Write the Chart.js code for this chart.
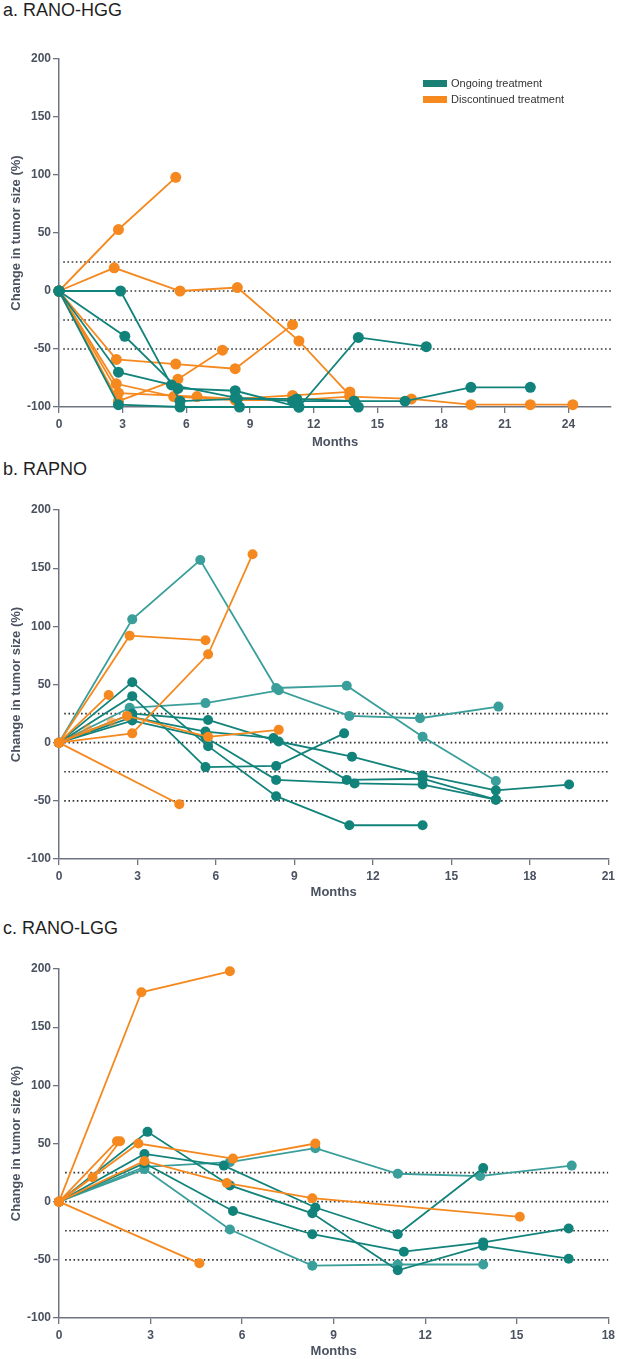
<!DOCTYPE html>
<html>
<head>
<meta charset="utf-8">
<script src="https://cdn.jsdelivr.net/npm/chart.js@4.4.1/dist/chart.umd.min.js"></script>
<style>
  body { margin: 0; background: #fff; }
  #wrap { position: relative; width: 619px; height: 1359px; font-family: "Liberation Sans", Arial, sans-serif; }
  canvas { position: absolute; left: 0; }
  .ttl { position: absolute; left: 3px; font-size: 18px; line-height: 20px; color: #1f1f1f; }
  .lgbox { position: absolute; left: 423px; width: 24px; height: 7px; }
  .lgtxt { position: absolute; left: 451px; font-size: 11px; line-height: 13px; color: #333; }
</style>
</head>
<body>
<div id="wrap">
  <div class="ttl" style="top:0px">a. RANO-HGG</div>
  <div class="ttl" style="top:459px">b. RAPNO</div>
  <div class="ttl" style="top:918px">c. RANO-LGG</div>
  <canvas id="hgg" width="619" height="450" style="top:0px"></canvas>
  <canvas id="rapno" width="619" height="450" style="top:450px"></canvas>
  <canvas id="lgg" width="619" height="459" style="top:900px"></canvas>
  <div class="lgbox" style="top:80px;background:#1a8076"></div>
  <div class="lgtxt" style="top:77px">Ongoing treatment</div>
  <div class="lgbox" style="top:96px;background:#f68a1e"></div>
  <div class="lgtxt" style="top:93px">Discontinued treatment</div>
</div>
<script>
// tick labels
var yTicks = [-100, -50, 0, 50, 100, 150, 200];
var xTicksHgg = [0, 3, 6, 9, 12, 15, 18, 21, 24];
var xTicksRapno = [0, 3, 6, 9, 12, 15, 18, 21];
var xTicksLgg = [0, 3, 6, 9, 12, 15, 18];
// dotted response thresholds
var refLevels = [25, 0, -25, -50];

// [month, % change] per patient
var hggOngoing = [
  [[0,0],[2.9,0],[5.7,-95],[8.4,-93],[11.2,-93],[13.9,-95],[16.3,-95],[19.4,-83],[22.2,-83]],
  [[0,0],[3.1,-39],[5.6,-84],[8.3,-86],[11.3,-100],[14.1,-40],[17.3,-48]],
  [[0,0],[2.8,-70],[5.3,-81],[8.3,-92],[11.0,-95],[13.9,-95]],
  [[0,0],[2.8,-98],[5.7,-100],[8.5,-100],[11.3,-100],[14.1,-100]]
];
var hggStopped = [
  [[0,0],[2.8,53],[5.5,98]],
  [[0,0],[2.6,20],[5.7,0],[8.4,3],[11.3,-43],[13.7,-90]],
  [[0,0],[2.7,-59],[5.5,-63],[8.3,-67],[11.0,-29]],
  [[0,0],[2.8,-95],[5.6,-76],[7.7,-51]],
  [[0,0],[2.7,-80],[5.4,-91],[8.3,-94],[11.1,-94],[13.7,-91],[16.6,-93],[19.4,-98],[22.2,-98],[24.2,-98]],
  [[0,0],[2.8,-88],[6.5,-91],[8.3,-93],[11.0,-90],[13.7,-87]]
];

var rapnoOngoing = [
  [[0,0],[2.8,52],[5.7,-3],[8.3,-46],[11.1,-71],[13.9,-71]],
  [[0,0],[2.8,40],[5.6,-21],[8.3,-20],[10.9,8]],
  [[0,0],[2.8,22],[5.6,9.5],[8.2,4],[11.0,-32],[13.9,-31],[16.7,-49]],
  [[0,0],[2.8,19],[5.6,4.6],[8.3,-32],[11.3,-35],[13.9,-36],[16.7,-49]],
  [[0,0],[2.8,25],[5.7,19.5],[8.4,1],[11.2,-12],[13.9,-28],[16.7,-41],[19.5,-36]]
];
var rapnoOngoingLight = [
  [[0,0],[2.8,106],[5.4,157],[8.3,47],[11.0,49],[13.9,5],[16.7,-33]],
  [[0,0],[2.7,30],[5.6,34],[8.4,45],[11.1,23],[13.8,21],[16.8,31]]
];
var rapnoStopped = [
  [[0,0],[2.7,92],[5.6,88]],
  [[0,0],[2.8,8],[5.7,76],[7.4,162]],
  [[0,0],[1.9,41]],
  [[0,0],[2.6,23],[5.7,5],[8.4,11]],
  [[0,0],[4.6,-53]]
];
var rapnoStoppedFaint = [
  [[0,0],[1.1,12]],
  [[0,0],[2.0,18]]
];

var lggOngoing = [
  [[0,0],[2.9,60],[5.6,14],[8.3,-10],[11.1,-59],[13.9,-38],[16.7,-49]],
  [[0,0],[2.8,41],[5.4,31],[8.4,-5],[11.1,-28],[13.9,29]],
  [[0,0],[2.8,33],[5.7,-8],[8.3,-28],[11.3,-43],[13.9,-35],[16.7,-23]]
];
var lggOngoingLight = [
  [[0,0],[2.8,30],[5.6,34],[8.4,46],[11.1,24],[13.8,22],[16.8,31]],
  [[0,0],[2.8,28],[5.6,-24],[8.3,-55],[11.1,-54],[13.9,-54]]
];
var lggStopped = [
  [[0,0],[2.7,180],[5.6,198]],
  [[0,0],[1.1,21],[2.0,52]],
  [[0,0],[1.9,52]],
  [[0,0],[2.6,50],[5.7,37],[8.4,50]],
  [[0,0],[2.8,35],[5.5,16],[8.3,3],[15.1,-13]],
  [[0,0],[4.6,-53]]
];

var TEAL = '#12837b', TEAL_LIGHT = '#3a9f9a', ORANGE = '#f5891f', ORANGE_FAINT = 'rgba(245,137,31,0.55)';
var axisCol = '#6e7480', tickCol = '#4a5260';

function seriesSets(list, color, radius) {
  return list.map(function (s) {
    return {
      data: s.map(function (p) { return { x: p[0], y: p[1] }; }),
      borderColor: color,
      backgroundColor: color,
      pointBackgroundColor: color,
      pointBorderWidth: 0,
      pointRadius: radius,
      borderWidth: 1.8,
      showLine: true,
      tension: 0,
      clip: false,
      order: 1
    };
  });
}

function refSets(xMax) {
  return refLevels.map(function (lv) {
    return {
      data: [{ x: 0.2, y: lv }, { x: xMax, y: lv }],
      borderColor: '#333',
      borderDash: [1.6, 2.6],
      borderWidth: 1.6,
      pointRadius: 0,
      showLine: true,
      order: 5
    };
  });
}

function makeChart(id, opt) {
  var font = { family: '"Liberation Sans", Arial, sans-serif', size: 12, weight: 'bold' };
  new Chart(document.getElementById(id), {
    type: 'scatter',
    data: { datasets: refSets(opt.xMax).concat(opt.sets) },
    options: {
      responsive: false,
      animation: false,
      layout: { padding: { left: 0, right: 8, top: opt.top, bottom: 0 } },
      plugins: { legend: { display: false }, tooltip: { enabled: false } },
      scales: {
        x: {
          type: 'linear', min: 0, max: opt.xMax,
          afterBuildTicks: function (s) { s.ticks = opt.xTicks.map(function (v) { return { value: v }; }); },
          afterFit: function (s) { s.height = opt.xH; },
          grid: { display: true, drawOnChartArea: false, drawTicks: true, tickLength: 6, color: axisCol, lineWidth: 1.3 },
          border: { display: true, color: axisCol, width: 1.5 },
          ticks: { padding: 4, color: tickCol, font: font, maxRotation: 0 },
          title: { display: true, text: 'Months', color: tickCol, font: { family: font.family, size: 13, weight: 'bold' }, padding: { top: 0, bottom: opt.titlePad } }
        },
        y: {
          type: 'linear', min: -100, max: 200,
          afterBuildTicks: function (s) { s.ticks = yTicks.map(function (v) { return { value: v }; }); },
          afterFit: function (s) { s.width = 59; },
          grid: { display: true, drawOnChartArea: false, drawTicks: true, tickLength: 6, color: axisCol, lineWidth: 1.3 },
          border: { display: true, color: axisCol, width: 1.5 },
          ticks: { padding: 2, color: tickCol, font: font },
          title: { display: true, text: 'Change in tumor size (%)', color: tickCol, font: { family: font.family, size: 13, weight: 'bold' }, padding: { top: 9, bottom: 0 } }
        }
      }
    }
  });
}

makeChart('hgg', {
  top: 59, xH: 43, titlePad: 0, xMax: 26, xTicks: xTicksHgg,
  sets: seriesSets(hggOngoing, TEAL, 5.5).concat(seriesSets(hggStopped, ORANGE, 5.5))
});
makeChart('rapno', {
  top: 60, xH: 41, titlePad: 0, xMax: 21, xTicks: xTicksRapno,
  sets: seriesSets(rapnoStoppedFaint, ORANGE_FAINT, 4.5)
    .concat(seriesSets(rapnoStopped, ORANGE, 5))
    .concat(seriesSets(rapnoOngoing, TEAL, 5))
    .concat(seriesSets(rapnoOngoingLight, TEAL_LIGHT, 5))
});
makeChart('lgg', {
  top: 69, xH: 41, titlePad: 0, xMax: 18, xTicks: xTicksLgg,
  sets: seriesSets(lggStopped, ORANGE, 5)
    .concat(seriesSets(lggOngoing, TEAL, 5))
    .concat(seriesSets(lggOngoingLight, TEAL_LIGHT, 5))
});
</script>
</body>
</html>
